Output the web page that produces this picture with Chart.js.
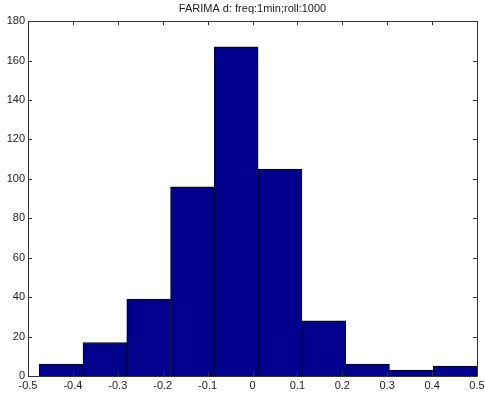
<!DOCTYPE html>
<html>
<head>
<meta charset="utf-8">
<script src="https://cdn.jsdelivr.net/npm/chart.js@4/dist/chart.umd.min.js"></script>
<style>
html,body{margin:0;padding:0;background:#fff;}
#wrap{width:485px;height:396px;position:relative;}
</style>
</head>
<body>
<div id="wrap"><canvas id="c" width="485" height="396"></canvas></div>
<script>
const chartTitle = "FARIMA d: freq:1min;roll:1000";
const binCenters = [-0.42625, -0.32875, -0.23125, -0.13375, -0.03625, 0.06125, 0.15875, 0.25625, 0.35375, 0.45125];
const counts = [6, 17, 39, 96, 167, 105, 28, 6, 3, 5];
const xTicks = [-0.5, -0.4, -0.3, -0.2, -0.1, 0, 0.1, 0.2, 0.3, 0.4, 0.5];
const yTicks = [0, 20, 40, 60, 80, 100, 120, 140, 160, 180];

const FONT = "'Liberation Sans', Arial, sans-serif";
const TXT = "#222";

const boxPlugin = {
  id: 'matlabBox',
  afterDatasetsDraw(chart) {
    const {ctx, chartArea: a, scales} = chart;
    ctx.save();
    ctx.strokeStyle = '#333';
    ctx.lineWidth = 1;
    ctx.beginPath();
    ctx.rect(Math.round(a.left) + 0.5, Math.round(a.top) + 0.5, Math.round(a.right - a.left), Math.round(a.bottom - a.top));
    ctx.stroke();
    const L = 4;
    ctx.beginPath();
    xTicks.forEach(v => {
      const px = Math.round(scales.x.getPixelForValue(v)) + 0.5;
      ctx.moveTo(px, a.bottom); ctx.lineTo(px, a.bottom - L);
      ctx.moveTo(px, a.top); ctx.lineTo(px, a.top + L);
    });
    yTicks.forEach(v => {
      const py = Math.round(scales.y.getPixelForValue(v)) + 0.5;
      ctx.moveTo(a.left, py); ctx.lineTo(a.left + L, py);
      ctx.moveTo(a.right, py); ctx.lineTo(a.right - L, py);
    });
    ctx.stroke();
    ctx.restore();
  }
};

new Chart(document.getElementById('c'), {
  type: 'bar',
  data: {
    datasets: [{
      data: binCenters.map((x, i) => ({x: x, y: counts[i]})),
      backgroundColor: '#00008c',
      borderColor: '#000030',
      borderWidth: 1,
      barPercentage: 1,
      categoryPercentage: 1
    }]
  },
  options: {
    responsive: false,
    animation: false,
    layout: {padding: {left: 0, right: 8, top: 0, bottom: 0}},
    plugins: {
      legend: {display: false},
      tooltip: {enabled: false},
      title: {
        display: true,
        fullSize: false,
        text: chartTitle,
        color: TXT,
        font: {family: FONT, size: 11, weight: 'normal'},
        padding: {top: 2, bottom: 6}
      }
    },
    scales: {
      x: {
        type: 'linear',
        min: -0.5, max: 0.5,
        offset: false,
        grid: {display: false, offset: false, drawTicks: false},
        border: {display: false},
        afterBuildTicks(s) { s.ticks = xTicks.map(v => ({value: v})); },
        ticks: {
          autoSkip: false, maxRotation: 0, padding: 3,
          color: TXT, font: {family: FONT, size: 11},
          callback: v => String(parseFloat(Number(v).toFixed(1)))
        },
        afterFit(s) { s.height = 20; s.paddingRight = 0; s.paddingLeft = 0; }
      },
      y: {
        min: 0, max: 180,
        grid: {display: false, drawTicks: false},
        border: {display: false},
        afterBuildTicks(s) { s.ticks = yTicks.map(v => ({value: v})); },
        ticks: {
          padding: 3,
          color: TXT, font: {family: FONT, size: 11}
        },
        afterFit(s) { s.width = 28; }
      }
    }
  },
  plugins: [boxPlugin]
});
</script>
</body>
</html>
